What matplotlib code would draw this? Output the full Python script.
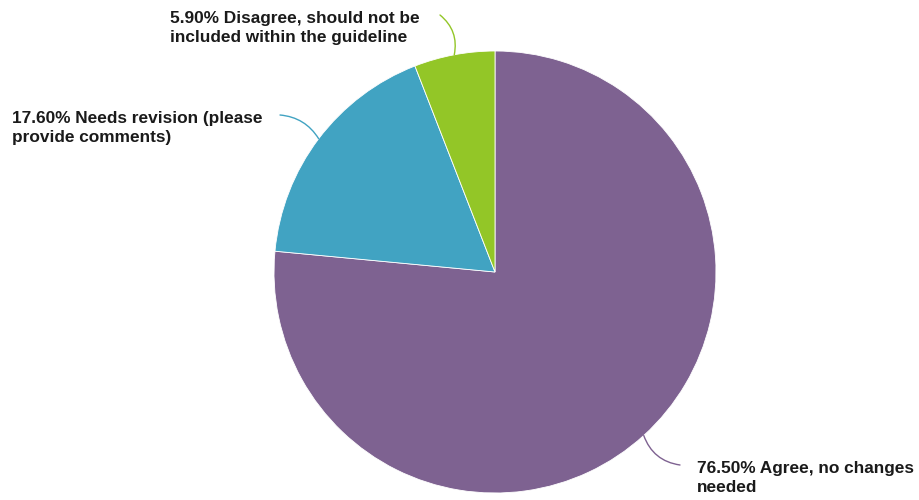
import matplotlib
matplotlib.use("Agg")
import numpy as np
import matplotlib.pyplot as plt

# --- data ---------------------------------------------------------------------
labels = ["Agree, no changes needed",
          "Needs revision (please provide comments)",
          "Disagree, should not be included within the guideline"]
shares = [76.5, 17.6, 5.9]
colors = ["#7e6291", "#41a3c2", "#93c627"]
label_text = ["76.50% Agree, no changes\nneeded",
              "17.60% Needs revision (please\nprovide comments)",
              "5.90% Disagree, should not be\nincluded within the guideline"]

# --- layout (pixel coordinates, y up) ------------------------------------------
W, H = 919, 500
cx, cy, r = 495, H - 272, 221
text_pos = [(697, H - 461), (12, H - 111), (170, H - 11)]
line_end = [(680, H - 465), (280, H - 115), (440, H - 15)]
line_rad = [-0.3, -0.25, -0.3]

fig = plt.figure(figsize=(W / 100, H / 100), dpi=100)
ax = fig.add_axes([0, 0, 1, 1])

wedges, _ = ax.pie(shares, colors=colors, startangle=90, counterclock=False,
                   center=(cx, cy), radius=r, frame=True,
                   wedgeprops=dict(edgecolor="white", linewidth=0.6))
ax.set_xlim(0, W)
ax.set_ylim(0, H)
ax.axis("off")

for w, txt, tp, le, rad, col in zip(wedges, label_text, text_pos, line_end, line_rad, colors):
    mid = np.deg2rad((w.theta1 + w.theta2) / 2)
    anchor = (cx + r * np.cos(mid), cy + r * np.sin(mid))
    ax.annotate("", xy=anchor, xytext=le,
                arrowprops=dict(arrowstyle="-", color=col, lw=1.0,
                                shrinkA=0, shrinkB=0,
                                connectionstyle=f"arc3,rad={rad}"))
    ax.text(tp[0], tp[1], txt, ha="left", va="top", fontsize=12.4,
            fontweight="bold", family="Liberation Sans", color="#1a1a1a",
            linespacing=1.3)

fig.savefig("out.png", dpi=100)
